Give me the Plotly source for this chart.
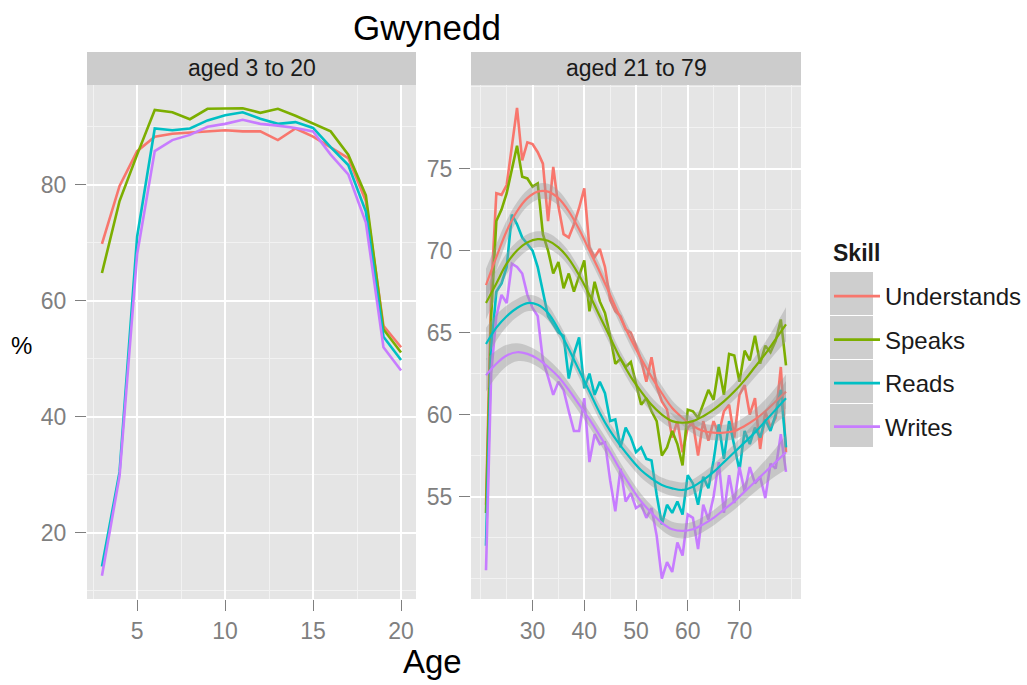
import plotly.graph_objects as go

W, H = 1027, 685

skills = ["Understands", "Speaks", "Reads", "Writes"]
colors = ["#F8766D", "#7CAE00", "#00BFC4", "#C77CFF"]

# ---- panel 1: aged 3 to 20 ----
ages_young = list(range(3, 21))
understands_young = [69.8, 79.8, 85.8, 88.3, 88.8, 89.0, 89.2, 89.4, 89.2, 89.2, 87.7, 89.7, 88.3, 86.5, 84.6, 77.2, 55.7, 52.0]
speaks_young = [64.8, 77.2, 85.2, 92.9, 92.5, 91.3, 93.1, 93.1, 93.2, 92.4, 93.1, 91.9, 90.5, 89.2, 85.2, 78.2, 55.1, 51.1]
reads_young = [14.2, 30.5, 71.1, 89.7, 89.4, 89.7, 91.1, 92.0, 92.5, 91.4, 90.5, 90.8, 89.8, 86.5, 83.4, 75.4, 53.8, 49.8]
writes_young = [12.6, 29.8, 68.0, 85.8, 87.7, 88.6, 90.0, 90.5, 91.2, 90.5, 90.2, 89.8, 89.2, 85.2, 81.8, 73.5, 52.0, 48.0]

# ---- panel 2: aged 21 to 79 ----
ages_adult = list(range(21, 80))
understands_adult = [54.5, 67.5, 73.5, 73.4, 74.0, 76.3, 78.7, 75.5, 76.6, 76.5,
                     76.0, 75.3, 71.8, 75.1, 72.7, 71.0, 70.8, 71.6, 72.6, 73.8,
                     70.2, 69.6, 70.1, 69.0, 67.0, 66.3, 66.0, 65.2, 65.0, 64.2,
                     63.3, 62.0, 63.5, 61.7, 60.8, 60.3, 58.6, 59.6, 57.7, 59.2,
                     59.5, 57.5, 59.6, 58.4, 59.6, 58.8, 60.2, 60.6, 58.6, 61.2,
                     61.8, 60.0, 61.0, 57.9, 60.2, 59.2, 59.8, 62.9, 57.7]
speaks_adult = [54.0, 66.0, 71.8, 72.5, 73.5, 74.9, 76.4, 74.5, 74.4, 73.9,
                74.1, 71.0, 70.0, 68.6, 69.3, 67.7, 68.6, 67.5, 68.4, 69.4,
                66.3, 68.1, 66.9, 66.2, 64.8, 63.1, 63.4, 62.9, 63.2, 61.8,
                60.6, 61.0, 60.2, 59.6, 57.5, 58.0, 59.0, 58.2, 56.9, 60.3,
                60.2, 59.8, 60.6, 61.5, 60.9, 62.9, 61.2, 63.7, 63.6, 62.0,
                63.9, 63.3, 64.8, 63.1, 64.2, 63.8, 64.5, 65.8, 63.0]
reads_adult = [52.0, 64.0, 67.5, 68.0, 69.0, 72.2, 71.6, 70.8, 70.4, 70.0,
               69.0, 67.5, 66.0, 65.5, 65.0, 64.8, 62.2, 63.7, 64.7, 61.6,
               62.5, 61.2, 62.0, 61.3, 59.6, 59.7, 58.0, 59.2, 58.6, 57.7,
               58.0, 57.3, 57.2, 55.1, 53.3, 54.5, 54.0, 54.7, 53.9, 56.3,
               55.8, 54.5, 56.2, 55.5, 57.2, 59.4, 57.3, 59.6, 58.0, 56.6,
               59.0, 58.2, 59.2, 58.6, 59.7, 59.0, 60.0, 61.5, 58.0]
writes_adult = [50.5, 62.5, 66.0, 67.3, 66.8, 69.2, 69.0, 68.6, 67.3, 66.5,
                66.0, 63.3, 62.3, 61.2, 62.0, 61.5, 60.2, 59.0, 59.0, 61.0,
                57.1, 58.8, 58.2, 58.3, 56.0, 54.1, 56.7, 54.7, 55.2, 54.3,
                54.5, 53.7, 54.3, 52.6, 50.0, 51.0, 50.4, 52.2, 51.4, 53.9,
                53.7, 51.8, 54.5, 53.6, 55.0, 57.1, 54.0, 56.3, 54.6, 56.8,
                55.3, 56.8, 55.8, 56.2, 54.9, 57.0, 56.7, 58.8, 56.5]

# ---- smoothed (loess) curves, with band half-widths ----
smooth_ages = list(range(21, 80, 2))
understands_smooth = [67.9, 69.6, 71.2, 72.4, 73.2, 73.6, 73.6, 73.2, 72.4, 71.3,
                      70.0, 68.7, 67.3, 65.9, 64.6, 63.4, 62.3, 61.3, 60.4, 59.8,
                      59.3, 59.0, 58.9, 58.9, 59.0, 59.3, 59.7, 60.2, 60.8, 61.4]
speaks_smooth = [66.8, 68.0, 69.2, 70.0, 70.5, 70.7, 70.6, 70.2, 69.5, 68.5,
                 67.3, 66.0, 64.7, 63.4, 62.3, 61.4, 60.6, 60.0, 59.6, 59.5,
                 59.6, 59.9, 60.3, 60.8, 61.4, 62.1, 62.9, 63.7, 64.6, 65.5]
reads_smooth = [64.3, 65.3, 66.0, 66.5, 66.8, 66.7, 66.2, 65.2, 64.0, 62.7,
                61.4, 60.1, 59.0, 58.1, 57.3, 56.6, 56.1, 55.7, 55.5, 55.4,
                55.6, 56.0, 56.5, 57.1, 57.7, 58.3, 58.9, 59.6, 60.3, 61.0]
writes_smooth = [62.4, 63.1, 63.6, 63.8, 63.7, 63.4, 62.9, 62.3, 61.5, 60.6,
                 59.7, 58.7, 57.7, 56.6, 55.6, 54.7, 54.0, 53.4, 53.0, 52.9,
                 53.0, 53.3, 53.7, 54.2, 54.7, 55.3, 55.9, 56.5, 57.1, 57.7]
band_half = [1.0, 0.8, 0.65, 0.55, 0.5, 0.48, 0.47, 0.46, 0.46, 0.46,
             0.46, 0.46, 0.46, 0.46, 0.46, 0.46, 0.46, 0.46, 0.46, 0.46,
             0.46, 0.46, 0.47, 0.48, 0.5, 0.55, 0.62, 0.72, 0.85, 1.05]

young = [understands_young, speaks_young, reads_young, writes_young]
adult = [understands_adult, speaks_adult, reads_adult, writes_adult]
smooth = [understands_smooth, speaks_smooth, reads_smooth, writes_smooth]

FONT = "Liberation Sans, Arial, sans-serif"

def px_x(p):
    return p / W

def px_y(p):
    return 1 - p / H

fig = go.Figure()

for i, s in enumerate(skills):
    fig.add_trace(go.Scatter(x=ages_young, y=young[i], mode="lines", name=s,
                             legendgroup=s, line=dict(color=colors[i], width=2.6),
                             xaxis="x", yaxis="y"))
for i, s in enumerate(skills):
    fig.add_trace(go.Scatter(x=ages_adult, y=adult[i], mode="lines", name=s,
                             legendgroup=s, showlegend=False,
                             line=dict(color=colors[i], width=2.6),
                             xaxis="x2", yaxis="y2"))
for i, s in enumerate(skills):
    lo = [v - h for v, h in zip(smooth[i], band_half)]
    hi = [v + h for v, h in zip(smooth[i], band_half)]
    fig.add_trace(go.Scatter(x=smooth_ages, y=lo, mode="lines", showlegend=False,
                             hoverinfo="skip", line=dict(width=0, shape="spline"),
                             xaxis="x2", yaxis="y2"))
    fig.add_trace(go.Scatter(x=smooth_ages, y=hi, mode="lines", showlegend=False,
                             hoverinfo="skip", line=dict(width=0, shape="spline"),
                             fill="tonexty", fillcolor="rgba(153,153,153,0.4)",
                             xaxis="x2", yaxis="y2"))
    fig.add_trace(go.Scatter(x=smooth_ages, y=smooth[i], mode="lines", showlegend=False,
                             name=s + " (smooth)",
                             line=dict(color=colors[i], width=2.2, shape="spline"),
                             xaxis="x2", yaxis="y2"))

tick_font = dict(family=FONT, size=23, color="#7F7F7F")
common = dict(showgrid=True, gridcolor="white", gridwidth=1.6, zeroline=False,
              showline=False, ticks="outside", ticklen=11, tickwidth=1.2,
              tickcolor="#7F7F7F", tickfont=tick_font)

y_top, y_bot = 85, 599
fig.update_layout(
    width=W, height=H,
    margin=dict(l=0, r=0, t=0, b=0),
    paper_bgcolor="white",
    plot_bgcolor="#E5E5E5",
    font=dict(family=FONT, color="#1A1A1A"),
    xaxis=dict(domain=[px_x(87), px_x(416)], range=[2.15, 20.85],
               tickvals=[5, 10, 15, 20], anchor="y",
               minor=dict(dtick=2.5, tick0=0, showgrid=True, gridcolor="#F2F2F2", gridwidth=0.8),
               **common),
    yaxis=dict(domain=[px_y(y_bot), px_y(y_top)], range=[8.6, 97.2],
               tickvals=[20, 40, 60, 80], anchor="x", ticklabelstandoff=4,
               minor=dict(dtick=10, tick0=0, showgrid=True, gridcolor="#F2F2F2", gridwidth=0.8),
               **common),
    xaxis2=dict(domain=[px_x(471), px_x(801)], range=[18.1, 81.9],
                tickvals=[30, 40, 50, 60, 70], anchor="y2",
                minor=dict(dtick=5, tick0=0, showgrid=True, gridcolor="#F2F2F2", gridwidth=0.8),
                **common),
    yaxis2=dict(domain=[px_y(y_bot), px_y(y_top)], range=[48.75, 80.1],
                tickvals=[55, 60, 65, 70, 75], anchor="x2", ticklabelstandoff=2,
                minor=dict(dtick=2.5, tick0=0, showgrid=True, gridcolor="#F2F2F2", gridwidth=0.8),
                **common),
    showlegend=True,
    legend=dict(x=px_x(829), y=px_y(274), xanchor="left", yanchor="top",
                bgcolor="rgba(0,0,0,0)",
                font=dict(family=FONT, size=24, color="#1A1A1A"),
                tracegroupgap=9.3, itemwidth=46),
)

shapes = []
# strips
for x0, x1 in [(87, 416), (471, 801)]:
    shapes.append(dict(type="rect", xref="paper", yref="paper",
                       x0=px_x(x0), x1=px_x(x1), y0=px_y(85), y1=px_y(52),
                       fillcolor="#CCCCCC", line=dict(width=0), layer="below"))
# legend key backgrounds
for k in range(4):
    top = 272 + k * 44
    shapes.append(dict(type="rect", xref="paper", yref="paper",
                       x0=px_x(830), x1=px_x(873), y0=px_y(top + 43), y1=px_y(top),
                       fillcolor="#CECECE", line=dict(width=0), layer="above"))
fig.update_layout(shapes=shapes)

ann = [
    dict(text="aged 3 to 20", x=px_x(251.5), y=px_y(68.5)),
    dict(text="aged 21 to 79", x=px_x(636), y=px_y(68.5)),
]
annotations = []
for a in ann:
    annotations.append(dict(text=a["text"], x=a["x"], y=a["y"], xref="paper", yref="paper",
                            xanchor="center", yanchor="middle", showarrow=False,
                            font=dict(family=FONT, size=23, color="#1A1A1A")))
annotations.append(dict(text="<b>Skill</b>", x=px_x(831), y=px_y(253), xref="paper", yref="paper",
                        xanchor="left", yanchor="middle", showarrow=False,
                        font=dict(family=FONT, size=23, color="#1A1A1A")))
annotations.append(dict(text="Gwynedd", x=px_x(427), y=px_y(28), xref="paper", yref="paper",
                        xanchor="center", yanchor="middle", showarrow=False,
                        font=dict(family=FONT, size=35, color="black")))
annotations.append(dict(text="%", x=px_x(21), y=px_y(345), xref="paper", yref="paper",
                        xanchor="center", yanchor="middle", showarrow=False,
                        font=dict(family=FONT, size=24, color="black")))
annotations.append(dict(text="Age", x=px_x(432), y=px_y(661), xref="paper", yref="paper",
                        xanchor="center", yanchor="middle", showarrow=False,
                        font=dict(family=FONT, size=33, color="black")))
fig.update_layout(annotations=annotations)

fig.write_html("out.html", config={"displayModeBar": False},
               post_script="document.body.style.margin='0';")
